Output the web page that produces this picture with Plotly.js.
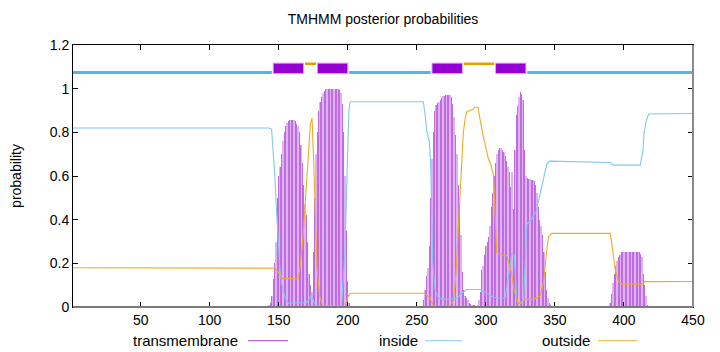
<!DOCTYPE html>
<html>
<head>
<meta charset="utf-8">
<script src="https://cdn.plot.ly/plotly-3.0.1.min.js"></script>
<style>html,body{margin:0;padding:0;background:#fff;}#chart{width:720px;height:352px;}</style>
</head>
<body>
<div id="chart"></div>
<script>
// ---- Data ----
const xTicks = [50, 100, 150, 200, 250, 300, 350, 400, 450];
const yTicks = [0, 0.2, 0.4, 0.6, 0.8, 1, 1.2];

// Predicted topology segments
const topoStart = [1, 146, 169, 178, 201, 261, 284, 307, 330];
const topoEnd   = [145, 168, 177, 200, 260, 283, 306, 329, 450];
const topoType  = ['inside', 'TMhelix', 'outside', 'TMhelix', 'inside', 'TMhelix', 'outside', 'TMhelix', 'inside'];

// Transmembrane posterior probability (one value per residue), three regions
const tmStart1 = 140;
const tmValues1 = [0, 0, 0.005, 0.01, 0.02, 0.05, 0.13, 0.2, 0.3, 0.5,
  0.6, 0.64, 0.7, 0.76, 0.8, 0.83, 0.845, 0.85, 0.855, 0.855,
  0.855, 0.855, 0.85, 0.84, 0.83, 0.8, 0.74, 0.66, 0.56, 0.47,
  0.42, 0.3, 0.15, 0.1, 0.07, 0.25, 0.5, 0.7, 0.8, 0.9,
  0.94, 0.96, 0.98, 0.99, 1, 1, 1, 1, 1, 1,
  1, 1, 1, 1, 0.995, 0.98, 0.93, 0.8, 0.6, 0.35,
  0.12, 0.02];
const tmStart2 = 254;
const tmValues2 = [0, 0.03, 0.08, 0.14, 0.18, 0.28, 0.5, 0.68, 0.8, 0.9,
  0.925, 0.935, 0.94, 0.948, 0.955, 0.965, 0.968, 0.97, 0.972, 0.972,
  0.97, 0.96, 0.93, 0.87, 0.79, 0.7, 0.56, 0.46, 0.33, 0.16,
  0.08, 0.05, 0.04, 0.03, 0.02, 0.015, 0.01, 0.01, 0.01, 0.005,
  0.01, 0.03, 0.07, 0.17, 0.19, 0.24, 0.28, 0.3, 0.32, 0.37,
  0.46, 0.52, 0.6, 0.66, 0.7, 0.72, 0.73, 0.73, 0.72, 0.71,
  0.69, 0.67, 0.64, 0.62, 0.55, 0.62, 0.45, 0.72, 0.88, 0.92,
  0.96, 0.985, 0.975, 0.95, 0.72, 0.6, 0.59, 0.585, 0.585, 0.58,
  0.58, 0.575, 0.56, 0.52, 0.46, 0.4, 0.37, 0.33, 0.25, 0.16,
  0.08, 0.04, 0.02, 0.01, 0.005];
const tmStart3 = 380;
const tmValues3 = [0.003, 0.003, 0.003, 0.003, 0.003, 0.003, 0.003, 0.003, 0.003, 0.005,
  0.02, 0.06, 0.11, 0.15, 0.19, 0.21, 0.23, 0.24, 0.25, 0.25,
  0.25, 0.25, 0.25, 0.25, 0.25, 0.25, 0.25, 0.25, 0.25, 0.25,
  0.25, 0.25, 0.245, 0.23, 0.15, 0.1, 0.05, 0.01];

// Inside posterior probability (curve points)
const insideX = [1, 143, 144.8, 146, 147.2, 148.4, 149.6, 150.8, 152, 154.4,
  156.8, 170, 172, 173.6, 175, 176.5, 195.5, 198, 199.6, 200.8,
  201.7, 254.7, 255.9, 257.1, 259.1, 260, 260.8, 261.5, 263.2, 265.6,
  271.6, 276.5, 278.9, 282.5, 286.1, 295.8, 300.6, 305.5, 310.3, 314,
  316.4, 318.8, 320.5, 321.5, 322.4, 324.8, 327.3, 329.7, 333, 336.5,
  339.3, 341.8, 344.2, 346.1, 378, 390, 392.5, 411.8, 413.8, 414.5,
  416.2, 417.9, 450];
const insideY = [0.82, 0.82, 0.815, 0.72, 0.6, 0.44, 0.29, 0.18, 0.11, 0.047,
  0.018, 0.02, 0.035, 0.055, 0.03, 0.005, 0.003, 0.26, 0.64, 0.9,
  0.94, 0.94, 0.886, 0.81, 0.756, 0.66, 0.43, 0.2, 0.078, 0.04,
  0.035, 0.037, 0.04, 0.063, 0.08, 0.08, 0.063, 0.045, 0.04, 0.042,
  0.14, 0.245, 0.24, 0.093, 0.03, 0.015, 0.03, 0.38, 0.4, 0.44,
  0.52, 0.6, 0.657, 0.668, 0.666, 0.662, 0.65, 0.65, 0.72, 0.795,
  0.855, 0.884, 0.886];

// Outside posterior probability (curve points)
const outsideX = [1, 145, 147.2, 153.2, 164, 165.2, 167.6, 168.8, 170, 171.2,
  172.9, 174.1, 175.3, 176.5, 177.7, 179.6, 182, 198, 200.4, 201.7,
  255.9, 259.5, 262, 274, 276.5, 278.3, 279.5, 281, 282.5, 283.7,
  284.9, 286.1, 288.5, 290.5, 292.2, 294.3, 295.5, 297, 298.5, 300,
  301.8, 304.2, 305.6, 306.2, 306.9, 307.9, 312.8, 315.2, 316.3, 317.6,
  318.7, 320, 321.2, 322.4, 323.6, 324.8, 328.4, 334.4, 339.3, 341.7,
  344.1, 345.3, 347.7, 390, 391.2, 392.5, 393.7, 396.1, 398.5, 413,
  415.5, 450];
const outsideY = [0.18, 0.18, 0.178, 0.13, 0.13, 0.17, 0.32, 0.44, 0.535, 0.67,
  0.84, 0.865, 0.67, 0.41, 0.18, 0.05, 0.003, 0.003, 0.05, 0.063,
  0.063, 0.04, 0.005, 0.003, 0.03, 0.15, 0.3, 0.48, 0.66, 0.8,
  0.86, 0.893, 0.9, 0.905, 0.915, 0.915, 0.87, 0.81, 0.77, 0.73,
  0.68, 0.64, 0.6, 0.5, 0.35, 0.25, 0.238, 0.235, 0.207, 0.177,
  0.154, 0.093, 0.055, 0.03, 0.012, 0.02, 0.035, 0.035, 0.05, 0.11,
  0.26, 0.32, 0.337, 0.337, 0.29, 0.215, 0.17, 0.116, 0.105, 0.105,
  0.116, 0.117];

// ---- Build ----
const colTM = '#9400d3';
const colIn = '#56b4e9';
const colOut = '#e69f00';

function expandPositions(start, vals) {
  return vals.map((v, i) => start + i);
}
const tmX = [].concat(expandPositions(tmStart1, tmValues1), expandPositions(tmStart2, tmValues2), expandPositions(tmStart3, tmValues3));
const tmY = [].concat(tmValues1, tmValues2, tmValues3);

const traces = [
  {
    type: 'bar', x: tmX, y: tmY, width: 1,
    marker: {color: '#e0b2f1', line: {width: 0}},
    hoverinfo: 'skip', showlegend: false
  },
  {
    type: 'bar', x: tmX, y: tmY, width: 0.55,
    marker: {color: '#bf6ce3', line: {width: 0}},
    hoverinfo: 'x+y', showlegend: false
  },
  {
    type: 'scatter', mode: 'lines', x: insideX, y: insideY,
    line: {color: '#7fc8ee', width: 1.1}, showlegend: false
  },
  {
    type: 'scatter', mode: 'lines', x: outsideX, y: outsideY,
    line: {color: '#eeaa2a', width: 1.1}, showlegend: false
  }
];

const shapes = [];
// topology track
topoType.forEach((t, i) => {
  const x0 = topoStart[i], x1 = topoEnd[i];
  if (t === 'TMhelix') {
    shapes.push({type: 'rect', xref: 'x', yref: 'y', x0: x0, x1: x1, y0: 1.069, y1: 1.117,
      fillcolor: colTM, line: {color: '#d9a6f2', width: 1}});
  } else if (t === 'inside') {
    shapes.push({type: 'line', xref: 'x', yref: 'y', x0: x0, x1: x1, y0: 1.074, y1: 1.074,
      line: {color: colIn, width: 3}});
  } else {
    shapes.push({type: 'line', xref: 'x', yref: 'y', x0: x0, x1: x1, y0: 1.114, y1: 1.114,
      line: {color: colOut, width: 2.5}});
  }
});
// gnuplot-like border: bottom and right drawn in grey
shapes.push({type: 'line', xref: 'paper', yref: 'paper', x0: 0, x1: 1, y0: 0, y1: 0, line: {color: '#7a7a7a', width: 2}});
shapes.push({type: 'line', xref: 'paper', yref: 'paper', x0: 1, x1: 1, y0: 0, y1: 1, line: {color: '#8a8a8a', width: 2}});

// legend entries: text followed by a line sample
const legendNames = ['transmembrane', 'inside', 'outside'];
const legendColors = ['#b86ae0', '#9fd2ee', '#f0c06a'];
const legendTextX = [0.2694, 0.5597, 0.8371];
const legendLineX0 = [0.2823, 0.5677, 0.8468];
const legendLineX1 = [0.3468, 0.6274, 0.9097];
const legendY = -0.128;
const annotations = [];
legendNames.forEach((n, i) => {
  annotations.push({xref: 'paper', yref: 'paper', x: legendTextX[i], y: legendY,
    xanchor: 'right', yanchor: 'middle', text: n, showarrow: false,
    font: {family: 'Liberation Sans, Arial, sans-serif', size: 15, color: '#000'}});
  shapes.push({type: 'line', xref: 'paper', yref: 'paper', x0: legendLineX0[i], x1: legendLineX1[i],
    y0: legendY, y1: legendY, line: {color: legendColors[i], width: 1.2}});
});

const font = {family: 'Liberation Sans, Arial, sans-serif', size: 14, color: '#000'};

const layout = {
  width: 720, height: 352,
  margin: {l: 73, r: 27, t: 45, b: 45},
  paper_bgcolor: '#fff', plot_bgcolor: '#fff',
  font: font,
  barmode: 'overlay',
  bargap: 0,
  title: {text: 'TMHMM posterior probabilities', font: font, x: 0.5, xref: 'paper', xanchor: 'center',
    y: 1 - 19 / 352, yref: 'container', yanchor: 'middle'},
  xaxis: {
    range: [1, 450], tickmode: 'array', tickvals: xTicks, ticktext: xTicks.map(String),
    ticks: 'inside', ticklen: 5, tickcolor: '#000', tickwidth: 1,
    showline: true, linecolor: '#000', linewidth: 1, mirror: 'ticks',
    showgrid: false, zeroline: false, tickfont: font, fixedrange: true
  },
  yaxis: {
    range: [0, 1.2], tickmode: 'array', tickvals: yTicks, ticktext: yTicks.map(String),
    ticks: 'inside', ticklen: 5, tickcolor: '#000', tickwidth: 1,
    showline: true, linecolor: '#000', linewidth: 1, mirror: 'ticks',
    showgrid: false, zeroline: false, tickfont: font, fixedrange: true,
    title: {text: 'probability', font: font, standoff: 24}
  },
  shapes: shapes,
  annotations: annotations,
  showlegend: false
};

Plotly.newPlot('chart', traces, layout, {displayModeBar: false, staticPlot: true});
</script>
</body>
</html>
